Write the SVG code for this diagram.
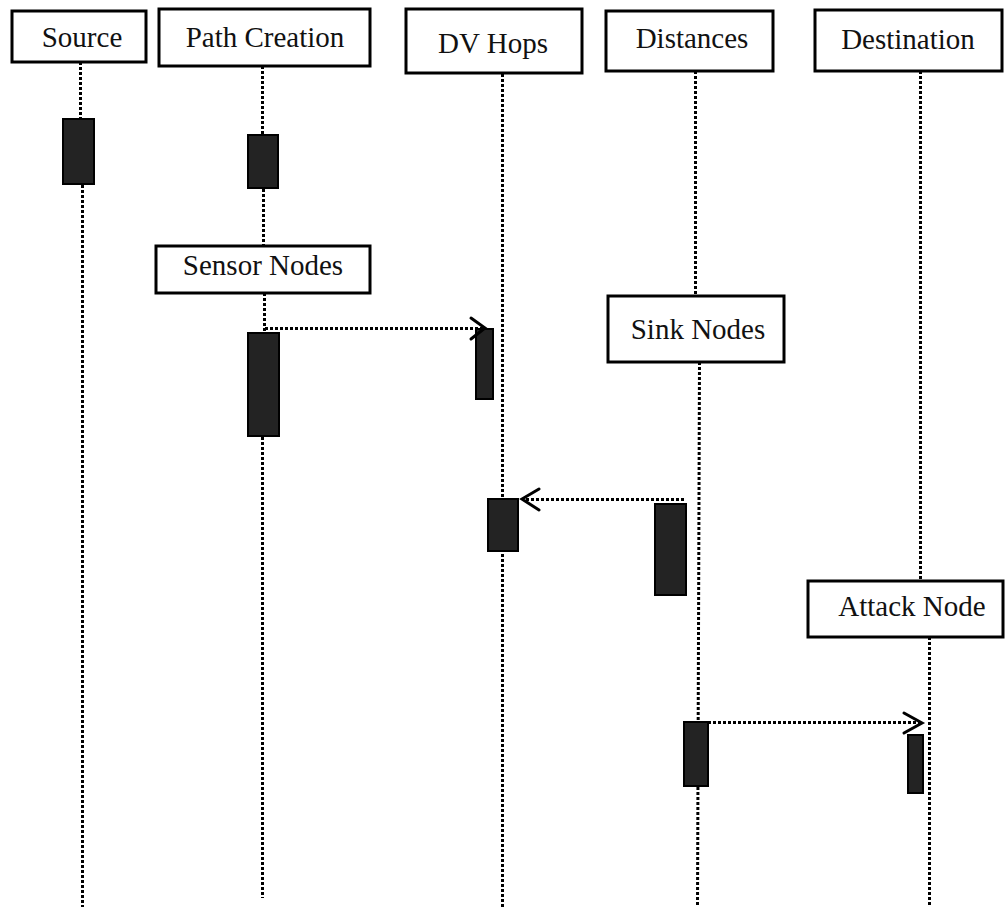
<svg xmlns="http://www.w3.org/2000/svg" width="1005" height="907" viewBox="0 0 1005 907">
<style>
.box{fill:#fff;stroke:#000;stroke-width:3}
.lbl{font-family:"Liberation Serif","Times New Roman",serif;font-size:29px;fill:#111;text-anchor:middle}
.life{stroke:#000;stroke-width:3;stroke-dasharray:3 2;fill:none}
.msg{stroke:#000;stroke-width:3;stroke-dasharray:3 2;fill:none}
.head{stroke:#000;stroke-width:3;fill:none;stroke-linecap:round;stroke-linejoin:miter}
.act{fill:#232323;stroke:#000;stroke-width:2}
</style>
<rect width="1005" height="907" fill="#fff"/>
<g id="lifelines">
<line class="life" x1="80.5" y1="62" x2="80.5" y2="118"/>
<line class="life" x1="82.5" y1="185" x2="82.5" y2="907"/>
<line class="life" x1="262.5" y1="66" x2="262.5" y2="134"/>
<line class="life" x1="263.5" y1="189" x2="263.5" y2="245"/>
<line class="life" x1="264.5" y1="293" x2="264.5" y2="333"/>
<line class="life" x1="262.5" y1="437" x2="262.5" y2="898"/>
<line class="life" x1="502.5" y1="74" x2="502.5" y2="907"/>
<line class="life" x1="695.5" y1="71" x2="695.5" y2="295"/>
<line class="life" x1="699.5" y1="362" x2="697.5" y2="907"/>
<line class="life" x1="920.5" y1="71" x2="920.5" y2="580"/>
<line class="life" x1="929.5" y1="637" x2="929.5" y2="907"/>
</g>
<g id="activations">
<rect class="act" x="63" y="119" width="31" height="65"/>
<rect class="act" x="248" y="135" width="30" height="53"/>
<rect class="act" x="248" y="333" width="31" height="103"/>
<rect class="act" x="476" y="329" width="17" height="70"/>
<rect class="act" x="488" y="499" width="30" height="52"/>
<rect class="act" x="655" y="504" width="31" height="91"/>
<rect class="act" x="684" y="722" width="24" height="64"/>
<rect class="act" x="908" y="735" width="15" height="58"/>
</g>
<g id="connectors">
<line class="msg" x1="265" y1="328.5" x2="483" y2="328.5"/>
<path class="head" d="M471,318 L485,328 L471,339"/>
<line class="msg" x1="684" y1="499.5" x2="524" y2="499.5"/>
<path class="head" d="M539,489 L522,499 L539,510"/>
<line class="msg" x1="708" y1="722.5" x2="921" y2="722.5"/>
<path class="head" d="M904,713 L922,723 L904,733"/>
</g>
<g id="source"><rect class="box" x="12" y="11" width="134" height="51"/><text class="lbl" x="82" y="47">Source</text></g>
<g id="path-creation"><rect class="box" x="159" y="9" width="211" height="57"/><text class="lbl" x="265" y="47">Path Creation</text></g>
<g id="dv-hops"><rect class="box" x="406" y="9" width="176" height="64"/><text class="lbl" x="493" y="53">DV Hops</text></g>
<g id="distances"><rect class="box" x="606" y="11" width="167" height="60"/><text class="lbl" x="692" y="48">Distances</text></g>
<g id="destination"><rect class="box" x="815" y="10" width="187" height="61"/><text class="lbl" x="908" y="49">Destination</text></g>
<g id="sensor-nodes"><rect class="box" x="156" y="246" width="214" height="47"/><text class="lbl" x="263" y="275">Sensor Nodes</text></g>
<g id="sink-nodes"><rect class="box" x="608" y="296" width="176" height="66"/><text class="lbl" x="698" y="339">Sink Nodes</text></g>
<g id="attack-node"><rect class="box" x="808" y="581" width="195" height="56"/><text class="lbl" x="912" y="616">Attack Node</text></g>
</svg>
